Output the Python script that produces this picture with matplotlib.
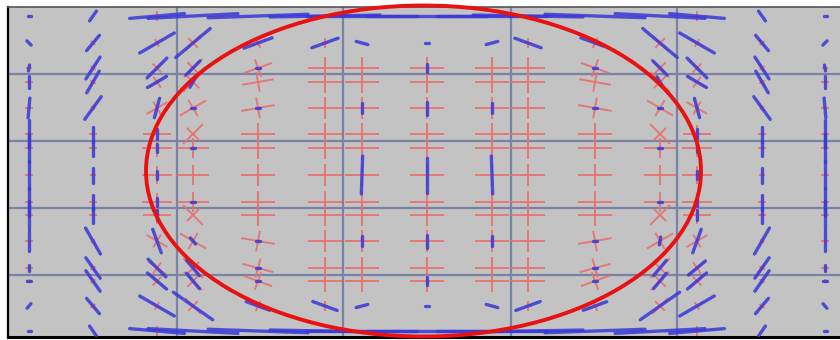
import numpy as np
import matplotlib
matplotlib.use("Agg")
import matplotlib.pyplot as plt
from matplotlib.collections import LineCollection
from matplotlib.patches import Ellipse

# sample positions (image pixels)
xs = [29, 93, 157, 193, 258, 325, 362, 427, 492, 528, 595, 660, 697, 762, 825]
ys = [16, 43, 68, 82, 108, 134, 148, 175, 202, 215, 241, 268, 281, 306, 331]

grid_x = [177, 343, 511, 677]
grid_y = [74, 141, 208, 275]

# blue segments: angle (deg, + = "/") and length (px), one row per ys
blue_ang = [
    [0, 55, 5, 3, 2, 1, 0, 0, 0, -1, -2, -3, -5, -55, 0],
    [-45, 50, 30, 40, 20, 20, -15, 0, 15, -20, -20, -40, -30, -50, 45],
    [80, 57, 45, 45, 0, 0, 0, 90, 0, 0, 0, -45, -45, -57, -80],
    [90, 60, 30, 60, 0, 0, 0, 0, 0, 0, 0, -60, -30, -60, 90],
    [85, 54, 75, 0, 0, 0, 90, 90, 90, 0, 0, 0, -75, -54, 95],
    [90, 90, 90, 0, 0, 0, 0, 0, 0, 0, 0, 0, 90, 90, 90],
    [90, 90, 90, 0, 0, 0, 0, 0, 0, 0, 0, 0, 90, 90, 90],
    [90, 90, 90, 0, 0, 0, 88, 90, 92, 0, 0, 0, 90, 90, 90],
    [90, 90, 90, 0, 0, 0, 0, 0, 0, 0, 0, 0, 90, 90, 90],
    [90, 90, 90, 0, 0, 0, 0, 0, 0, 0, 0, 0, 90, 90, 90],
    [90, -60, -70, -50, 0, 0, 90, 90, 90, 0, 0, 80, 70, 60, 90],
    [90, -55, -45, -50, 0, 0, 0, 0, 0, 0, 0, 50, 40, 55, 90],
    [0, -55, -40, -50, 0, 0, 0, 90, 0, 0, 0, 50, 40, 55, 0],
    [50, -50, -30, -35, -20, -20, 15, 0, -15, 20, 20, 35, 30, 50, -50],
    [0, -55, -5, -3, -2, -1, 0, 0, 0, 1, 2, 3, 5, 55, 0],
]
blue_len = [
    [3, 12, 55, 90, 100, 110, 110, 120, 110, 110, 100, 90, 55, 12, 3],
    [6, 20, 40, 45, 30, 28, 12, 4, 12, 28, 30, 45, 40, 20, 6],
    [6, 26, 28, 20, 4, 0, 0, 8, 0, 0, 4, 20, 28, 26, 6],
    [12, 25, 22, 12, 0, 0, 0, 0, 0, 0, 0, 12, 22, 25, 12],
    [20, 28, 20, 4, 4, 0, 10, 13, 10, 0, 4, 4, 20, 28, 20],
    [28, 15, 10, 0, 0, 0, 0, 0, 0, 0, 0, 0, 10, 15, 28],
    [28, 15, 8, 4, 0, 0, 0, 0, 0, 0, 0, 4, 8, 15, 28],
    [28, 15, 8, 0, 0, 0, 38, 35, 38, 0, 0, 0, 8, 15, 28],
    [28, 15, 8, 4, 0, 0, 0, 0, 0, 0, 0, 4, 8, 15, 28],
    [28, 15, 10, 0, 0, 0, 0, 0, 0, 0, 0, 0, 10, 15, 28],
    [20, 30, 25, 8, 4, 0, 10, 13, 10, 0, 4, 8, 25, 30, 20],
    [6, 25, 25, 20, 4, 0, 0, 0, 0, 0, 4, 20, 22, 25, 6],
    [4, 25, 25, 20, 4, 0, 0, 8, 0, 0, 4, 20, 25, 25, 4],
    [6, 20, 40, 48, 25, 26, 12, 4, 12, 26, 25, 48, 40, 20, 6],
    [3, 12, 55, 90, 100, 110, 110, 120, 110, 110, 100, 90, 55, 12, 3],
]

# red crosses: rotation (deg) and arm size (px)
red_rot = [
    [0, 0, 90, 0, 0, 0, 0, 0, 0, 0, 0, 0, 90, 0, 0],
    [0, 50, 30, 45, 25, 90, 0, 0, 0, 90, -25, -45, -30, -50, 0],
    [0, 55, 45, 45, 20, 0, 0, 0, 0, 0, -20, -45, -45, -55, 0],
    [0, 60, 35, 45, 10, 0, 0, 0, 0, 0, -10, -45, -35, -60, 0],
    [0, 55, 30, 30, 10, 0, 0, 0, 0, 0, -10, -30, -30, -55, 0],
    [0, 0, 0, 45, 0, 0, 0, 0, 0, 0, 0, -45, 0, 0, 0],
    [0, 0, 0, 0, 0, 0, 0, 0, 0, 0, 0, 0, 0, 0, 0],
    [0, 0, 0, 0, 0, 0, 0, 0, 0, 0, 0, 0, 0, 0, 0],
    [0, 0, 0, 0, 0, 0, 0, 0, 0, 0, 0, 0, 0, 0, 0],
    [0, 0, 0, -45, 0, 0, 0, 0, 0, 0, 0, 45, 0, 0, 0],
    [0, -55, -30, -30, -10, 0, 0, 0, 0, 0, 10, 30, 30, 55, 0],
    [0, -60, -35, -45, -15, 0, 0, 0, 0, 0, 15, 45, 35, 60, 0],
    [0, -55, -45, -45, -20, 0, 0, 0, 0, 0, 20, 45, 45, 55, 0],
    [0, -50, -30, -45, -25, 90, 0, 0, 0, 90, 25, 45, 30, 50, 0],
    [0, 0, 90, 0, 0, 0, 0, 0, 0, 0, 0, 0, 90, 0, 0],
]
red_size = [
    [0, 0, 10, 0, 0, 0, 0, 0, 0, 0, 0, 0, 10, 0, 0],
    [0, 10, 14, 22, 18, 10, 0, 0, 0, 10, 18, 22, 14, 10, 0],
    [6, 10, 20, 26, 30, 34, 34, 34, 34, 34, 30, 26, 20, 10, 6],
    [8, 10, 22, 28, 32, 34, 34, 34, 34, 34, 32, 28, 22, 10, 8],
    [8, 8, 24, 30, 34, 34, 34, 34, 34, 34, 34, 30, 24, 8, 8],
    [8, 8, 28, 28, 34, 34, 34, 34, 34, 34, 34, 28, 28, 8, 8],
    [8, 8, 30, 32, 34, 34, 34, 34, 34, 34, 34, 32, 30, 8, 8],
    [8, 6, 30, 32, 34, 34, 34, 34, 34, 34, 34, 32, 30, 6, 8],
    [8, 8, 30, 32, 34, 34, 34, 34, 34, 34, 34, 32, 30, 8, 8],
    [8, 8, 28, 28, 34, 34, 34, 34, 34, 34, 34, 28, 28, 8, 8],
    [8, 8, 24, 30, 34, 34, 34, 34, 34, 34, 34, 30, 24, 8, 8],
    [8, 10, 22, 28, 32, 34, 34, 34, 34, 34, 32, 28, 22, 10, 8],
    [6, 10, 20, 26, 30, 34, 34, 34, 34, 34, 30, 26, 20, 10, 6],
    [0, 10, 14, 22, 18, 10, 0, 0, 0, 10, 18, 22, 14, 10, 0],
    [0, 0, 10, 0, 0, 0, 0, 0, 0, 0, 0, 0, 10, 0, 0],
]

BG = "#c3c3c3"
GRID = "#7a82a6"
RED = "#e8706e"
BLUE = "#3838d8"


def seg(x, y, ang, length):
    a = np.radians(ang)
    dx = 0.5 * length * np.cos(a)
    dy = -0.5 * length * np.sin(a)
    return [(x - dx, y - dy), (x + dx, y + dy)]


fig = plt.figure(figsize=(8.4, 3.4), dpi=100)
ax = fig.add_axes([8 / 840, 3 / 340, 832 / 840, 330 / 340])
ax.set_facecolor(BG)
ax.set_xlim(8, 840)
ax.set_ylim(337, 7)
ax.set_xticks([])
ax.set_yticks([])
ax.spines["right"].set_visible(False)
ax.spines["left"].set_color("black")
ax.spines["left"].set_linewidth(1.6)
ax.spines["bottom"].set_color("black")
ax.spines["bottom"].set_linewidth(2.2)
ax.spines["top"].set_color("#555555")
ax.spines["top"].set_linewidth(1.2)

for gx in grid_x:
    ax.axvline(gx, color=GRID, lw=1.6, zorder=1)
for gy in grid_y:
    ax.axhline(gy, color=GRID, lw=1.6, zorder=1)

red_segs = []
blue_segs = []
for i, y in enumerate(ys):
    for j, x in enumerate(xs):
        s = red_size[i][j]
        if s > 0:
            r = red_rot[i][j]
            red_segs.append(seg(x, y, r, s))
            red_segs.append(seg(x, y, r + 90, s * 0.62))
        L = blue_len[i][j]
        if L > 0:
            blue_segs.append(seg(x, y, blue_ang[i][j], L))

ax.add_collection(LineCollection(red_segs, colors=RED, linewidths=1.4,
                                 alpha=0.9, zorder=2))
ax.add_collection(LineCollection(blue_segs, colors=BLUE, linewidths=2.4,
                                 capstyle="round", alpha=0.85, zorder=3))

ax.add_patch(Ellipse((423.5, 171), 555, 331, fill=False, edgecolor="#e81212",
                     lw=2.8, zorder=4, clip_on=False))

fig.savefig("out.png", dpi=100, facecolor="white")
